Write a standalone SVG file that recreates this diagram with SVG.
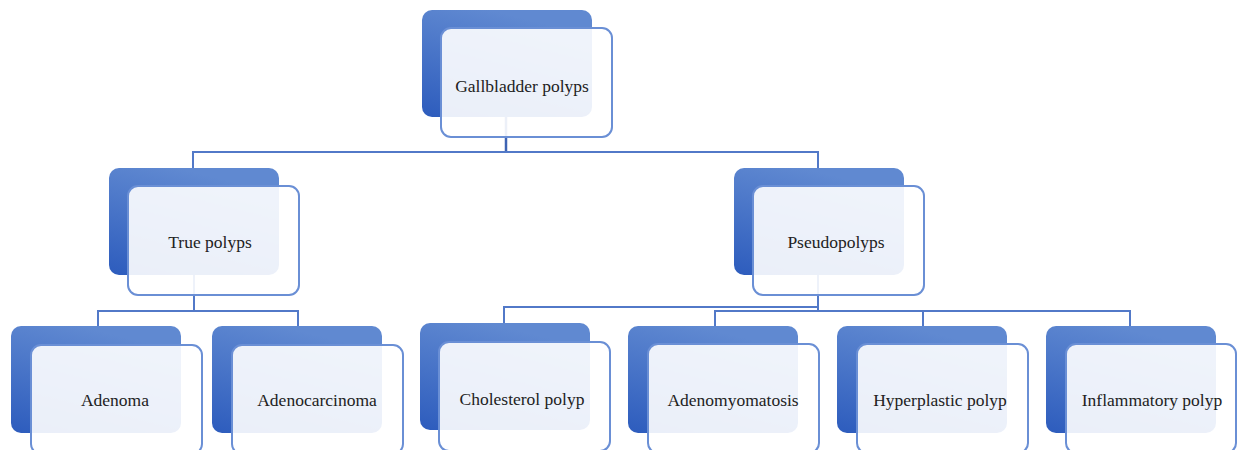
<svg xmlns="http://www.w3.org/2000/svg" width="1237" height="450" viewBox="0 0 1237 450">
  <defs>
    <linearGradient id="bg" x1="0.4" y1="0" x2="0" y2="1">
      <stop offset="0" stop-color="#6089d1"/>
      <stop offset="1" stop-color="#2d5cbd"/>
    </linearGradient>
    <style>
      .back { fill: url(#bg); }
      .front { fill: #ffffff; fill-opacity: 0.9; stroke: #6a8fd5; stroke-width: 2; }
      .lbl { font-family: "Liberation Serif", "DejaVu Serif", serif; font-size: 17.5px; fill: #222222; text-anchor: middle; }
      .conn { fill: none; stroke: #5279c8; stroke-width: 2; }
    </style>
  </defs>
  <rect width="1237" height="450" fill="#ffffff"/>

  <g id="connectors">
    <path class="conn" d="M506 117 V152" style="stroke:#3d63b3;stroke-width:2.5"/>
    <path class="conn" d="M193 168 V152 H818 V168"/>
    <path class="conn" d="M194 275 V311"/>
    <path class="conn" d="M98 326 V311 H298 V326"/>
    <path class="conn" d="M818 275 V311"/>
    <path class="conn" d="M504 323 V307 H818"/>
    <path class="conn" d="M715 326 V311 H1130 V326"/>
    <path class="conn" d="M923 311 V326"/>
  </g>

  <g id="node-gallbladder-polyps">
    <rect class="back" x="422" y="10" width="170" height="107" rx="10"/>
    <rect class="front" x="441" y="28" width="171" height="109" rx="10"/>
    <text class="lbl" x="522" y="92">Gallbladder polyps</text>
  </g>

  <g id="node-true-polyps">
    <rect class="back" x="109" y="168" width="170" height="107" rx="10"/>
    <rect class="front" x="128" y="186" width="171" height="109" rx="10"/>
    <text class="lbl" x="210" y="248">True polyps</text>
  </g>

  <g id="node-pseudopolyps">
    <rect class="back" x="734" y="168" width="170" height="107" rx="10"/>
    <rect class="front" x="753" y="186" width="171" height="109" rx="10"/>
    <text class="lbl" x="836" y="248">Pseudopolyps</text>
  </g>

  <g id="node-adenoma">
    <rect class="back" x="11" y="326" width="170" height="107" rx="10"/>
    <rect class="front" x="31" y="345" width="171" height="109" rx="10"/>
    <text class="lbl" x="115" y="406">Adenoma</text>
  </g>

  <g id="node-adenocarcinoma">
    <rect class="back" x="212" y="326" width="170" height="107" rx="10"/>
    <rect class="front" x="232" y="345" width="171" height="109" rx="10"/>
    <text class="lbl" x="317" y="406">Adenocarcinoma</text>
  </g>

  <g id="node-cholesterol-polyp">
    <rect class="back" x="420" y="323" width="170" height="107" rx="10"/>
    <rect class="front" x="439" y="342" width="171" height="109" rx="10"/>
    <text class="lbl" x="522" y="405">Cholesterol polyp</text>
  </g>

  <g id="node-adenomyomatosis">
    <rect class="back" x="628" y="326" width="170" height="107" rx="10"/>
    <rect class="front" x="648" y="344" width="171" height="109" rx="10"/>
    <text class="lbl" x="733" y="406">Adenomyomatosis</text>
  </g>

  <g id="node-hyperplastic-polyp">
    <rect class="back" x="837" y="326" width="170" height="107" rx="10"/>
    <rect class="front" x="857" y="344" width="171" height="109" rx="10"/>
    <text class="lbl" x="940" y="406">Hyperplastic polyp</text>
  </g>

  <g id="node-inflammatory-polyp">
    <rect class="back" x="1046" y="326" width="170" height="107" rx="10"/>
    <rect class="front" x="1066" y="344" width="170" height="109" rx="10"/>
    <text class="lbl" x="1152" y="406">Inflammatory polyp</text>
  </g>
</svg>
